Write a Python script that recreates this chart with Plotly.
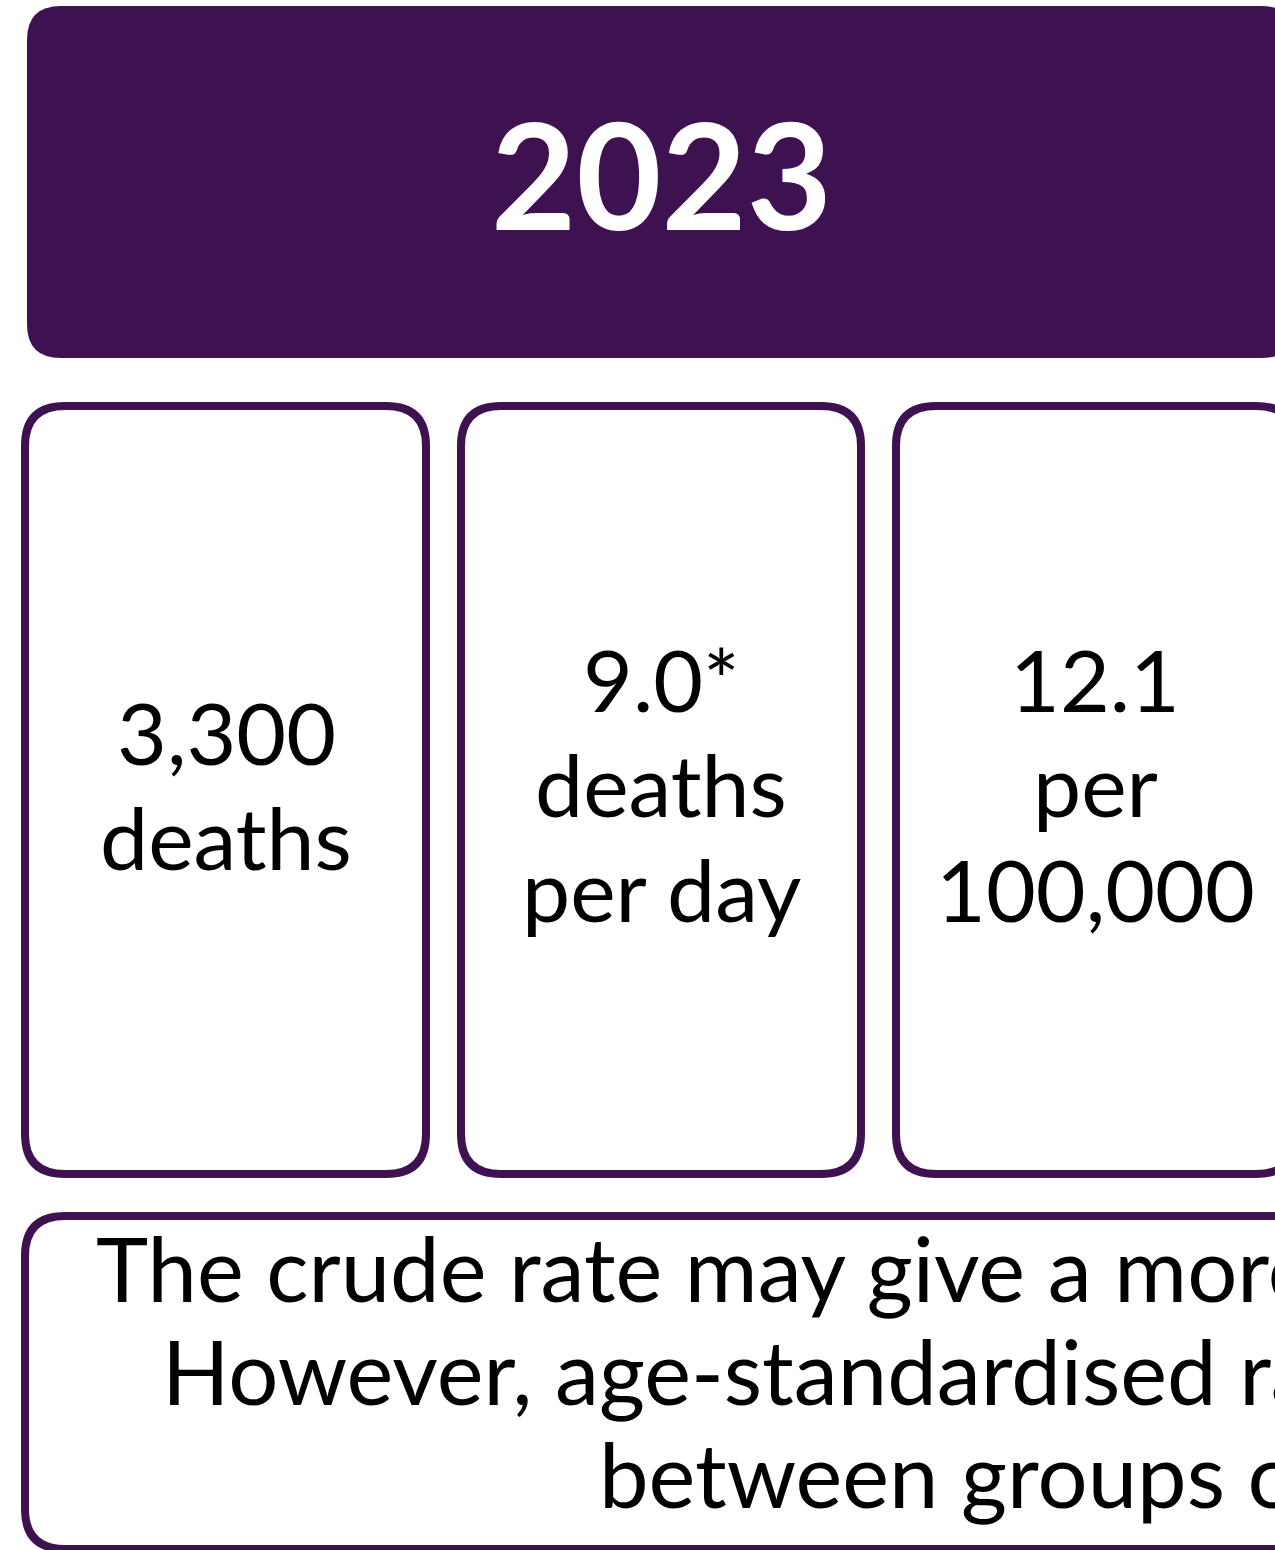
import plotly.graph_objects as go

# ---- data ----
year_label = "2023"
stat_values = ["3,300", "9.0*", "12.1"]
stat_labels = [["deaths"], ["deaths", "per day"], ["per", "100,000"]]
note_lines = [
    "The crude rate may give a more accurate picture of the actual burden.",
    "However, age-standardised rates allow comparisons",
    "between groups or over time.",
]

PURPLE = "#3E1151"
FONT = "Lato"
W, H = 1275, 1550


def rrect(x0, y0, x1, y1, r):
    return (f"M{x0+r},{y0} L{x1-r},{y0} Q{x1},{y0} {x1},{y0+r} "
            f"L{x1},{y1-r} Q{x1},{y1} {x1-r},{y1} L{x0+r},{y1} "
            f"Q{x0},{y1} {x0},{y1-r} L{x0},{y0+r} Q{x0},{y0} {x0+r},{y0} Z")


fig = go.Figure()
fig.add_trace(go.Scatter(x=[0, W], y=[0, H], mode="markers",
                         marker=dict(opacity=0), hoverinfo="skip", showlegend=False))

shapes = []
# header
shapes.append(dict(type="path", path=rrect(27, 6, 1295, 358, 34),
                   fillcolor=PURPLE, line=dict(width=0), layer="below"))
# stat boxes
box_x = [(25, 426), (461, 861), (896, 1296)]
for (x0, x1) in box_x:
    shapes.append(dict(type="path", path=rrect(x0, 406, x1, 1174, 40),
                       fillcolor="white", line=dict(color=PURPLE, width=8), layer="below"))
# note box
shapes.append(dict(type="path", path=rrect(25, 1216, 1500, 1549, 40),
                   fillcolor="white", line=dict(color=PURPLE, width=8), layer="below"))

FS = 86
YFS = 147
ann = []
ann.append(dict(x=661, y=230 - 0.387 * YFS, text=f"<b>{year_label}</b>", showarrow=False,
                xanchor="center", yanchor="middle",
                font=dict(family=FONT, size=YFS, color="white")))

centers = [226, 661, 1095]
first_baselines = [765, 712, 712]
LS = 105
for i, (val, labs) in enumerate(zip(stat_values, stat_labels)):
    lines = [val] + labs
    for j, t in enumerate(lines):
        b = first_baselines[i] + j * LS
        ann.append(dict(x=centers[i], y=b - 0.387 * FS, text=t, showarrow=False,
                        xanchor="center", yanchor="middle",
                        font=dict(family=FONT, size=FS, color="black")))

NFS = 88.5
note_x = [94, 160, 597]
note_base = [1302, 1405, 1508]
for t, x, b in zip(note_lines, note_x, note_base):
    ann.append(dict(x=x, y=b - 0.387 * NFS, text=t, showarrow=False,
                    xanchor="left", yanchor="middle",
                    font=dict(family=FONT, size=NFS, color="black")))

fig.update_layout(
    width=W, height=H,
    margin=dict(l=0, r=0, t=0, b=0),
    paper_bgcolor="white", plot_bgcolor="white",
    xaxis=dict(range=[0, W], visible=False, fixedrange=True),
    yaxis=dict(range=[H, 0], visible=False, fixedrange=True),
    shapes=shapes, annotations=ann, showlegend=False,
)
fig.write_html(
    "out.html",
    config={"displayModeBar": False},
    post_script="document.body.style.margin='0';document.body.style.overflow='hidden';",
)
